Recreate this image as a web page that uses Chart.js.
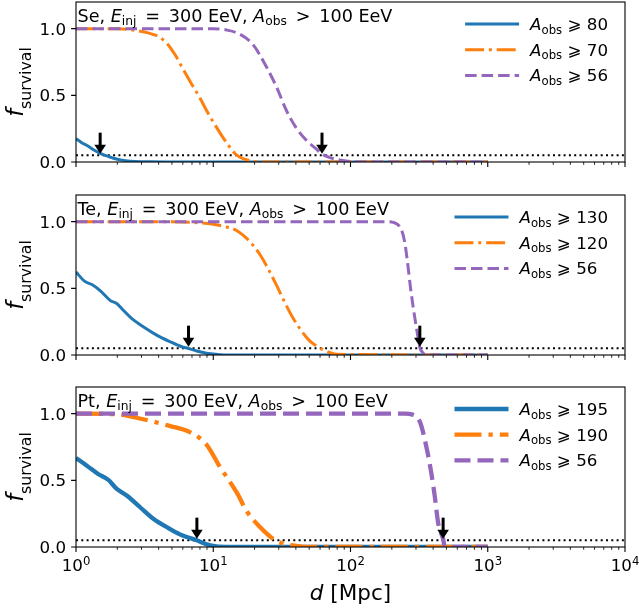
<!DOCTYPE html>
<html>
<head>
<meta charset="utf-8">
<script src="https://cdn.jsdelivr.net/npm/chart.js@4.4.1/dist/chart.umd.min.js"></script>
<style>
html,body{margin:0;padding:0;background:#fff;}
body{width:639px;height:609px;position:relative;overflow:hidden;}
canvas{position:absolute;left:0;}
</style>
</head>
<body>
<canvas id="c1" width="639" height="190" style="top:0px;width:639px;height:190px"></canvas>
<canvas id="c2" width="639" height="192" style="top:190px;width:639px;height:192px"></canvas>
<canvas id="c3" width="639" height="227" style="top:382px;width:639px;height:227px"></canvas>
<script>
// ---------------- data ----------------
const xTickValues = [1, 10, 100, 1000, 10000];
const xTickExponents = ['0', '1', '2', '3', '4'];
const xMinorTickValues = [2, 3, 4, 5, 6, 7, 8, 9, 20, 30, 40, 50, 60, 70, 80, 90,
  200, 300, 400, 500, 600, 700, 800, 900, 2000, 3000, 4000, 5000, 6000, 7000, 8000, 9000];
const yTickValues = [0, 0.5, 1.0];
const yTickLabels = ['0.0', '0.5', '1.0'];
const survivalThreshold = 0.05;

// Se panel
const seHeavyDist = [1, 1.1, 1.22, 1.35, 1.5, 1.65, 1.8, 2.0, 2.3, 2.7, 3.5, 5, 1000];
const seHeavyFrac = [0.175, 0.145, 0.12, 0.09, 0.065, 0.048, 0.035, 0.02, 0.01, 0.004, 0.001, 0, 0];
const seMidDist = [1, 2, 2.6, 3.3, 4, 4.6, 5.3, 6, 7, 8, 9, 10, 11.5, 13, 14.5, 16.5, 19, 22, 1000];
const seMidFrac = [1, 1, 0.99, 0.97, 0.94, 0.89, 0.8, 0.7, 0.58, 0.48, 0.38, 0.3, 0.2, 0.12, 0.06, 0.025, 0.008, 0, 0];
const seLightDist = [1, 10, 12.5, 15.5, 19.5, 24.5, 29, 34, 40, 48, 56, 62, 70, 83, 100, 120, 1000];
const seLightFrac = [1, 1, 0.99, 0.96, 0.88, 0.71, 0.56, 0.39, 0.26, 0.16, 0.1, 0.06, 0.035, 0.015, 0.004, 0, 0];
const seArrowDist = [1.5, 62];
const seLegendMasses = ['80', '70', '56'];

// Te panel
const teHeavyDist = [1, 1.16, 1.34, 1.52, 1.77, 1.98, 2.21, 2.54, 3.09, 3.87, 4.84, 5.89, 6.58, 7.57, 8.95, 10.6, 13, 1000];
const teHeavyFrac = [0.622, 0.552, 0.522, 0.478, 0.41, 0.386, 0.336, 0.274, 0.211, 0.149, 0.1, 0.062, 0.05, 0.03, 0.013, 0.005, 0, 0];
const teMidDist = [1, 5, 7, 10, 12.5, 15, 18.5, 22, 25, 29, 33, 38, 44, 50, 57, 63, 70, 80, 1000];
const teMidFrac = [1, 1, 0.995, 0.98, 0.96, 0.93, 0.85, 0.75, 0.65, 0.52, 0.4, 0.28, 0.18, 0.11, 0.065, 0.04, 0.02, 0.005, 0];
const teLightDist = [1, 150, 185, 205, 220, 235, 248, 260, 274, 290, 306, 320, 335, 355, 1000];
const teLightFrac = [1, 1, 1, 0.995, 0.98, 0.94, 0.85, 0.7, 0.5, 0.32, 0.17, 0.055, 0.02, 0, 0];
const teArrowDist = [6.6, 320];
const teLegendMasses = ['130', '120', '56'];

// Pt panel
const ptHeavyDist = [1, 1.2, 1.45, 1.72, 1.98, 2.34, 2.92, 3.66, 4.57, 5.72, 7.57, 9.5, 12.5, 1000];
const ptHeavyFrac = [0.667, 0.61, 0.548, 0.503, 0.436, 0.386, 0.3, 0.212, 0.15, 0.095, 0.05, 0.013, 0, 0];
const ptMidDist = [1, 2, 2.6, 3.5, 4.8, 6.8, 8.9, 11.2, 13, 15, 17.5, 21.9, 27.4, 32.3, 42.8, 50, 1000];
const ptMidFrac = [1, 0.995, 0.975, 0.945, 0.908, 0.86, 0.77, 0.6, 0.5, 0.4, 0.27, 0.15, 0.06, 0.025, 0.005, 0, 0];
const ptLightDist = [1, 250, 279, 320, 358, 389, 412, 436, 473, 487, 1000];
const ptLightFrac = [1, 1, 0.995, 0.94, 0.746, 0.548, 0.373, 0.175, 0.06, 0, 0];
const ptArrowDist = [7.6, 473];
const ptLegendMasses = ['195', '190', '56'];

// ---------------- style ----------------
const BLUE = '#1f77b4', ORANGE = '#ff7f0e', PURPLE = '#9467bd';
const FAMILY = '"DejaVu Sans", sans-serif';
const FS = 16.7;
const TITLE_FS = 17.6;

function pts(d, f) { return d.map((v, i) => ({x: v, y: f[i]})); }
function font(size, italic) { return (italic ? 'italic ' : '') + size + 'px ' + FAMILY; }

// parts: [text, kind]; kind: 'n' normal, 'i' italic, 'sub', 'sup'
function richMeasure(ctx, parts, size) {
  let w = 0;
  const items = parts.map(p => {
    const small = p[1] === 'sub' || p[1] === 'sup';
    const s = small ? size * 0.7 : size;
    const it = p[1] === 'i';
    ctx.font = font(s, it);
    const pw = ctx.measureText(p[0]).width;
    w += pw;
    return {t: p[0], s, it, pw, dy: p[1] === 'sub' ? size * 0.22 : (p[1] === 'sup' ? -size * 0.38 : 0)};
  });
  return {w, items};
}
function drawRich(ctx, parts, x, y, size, align, subDy) {
  const m = richMeasure(ctx, parts, size);
  let cx = align === 'center' ? x - m.w / 2 : (align === 'right' ? x - m.w : x);
  ctx.textBaseline = 'alphabetic';
  ctx.textAlign = 'left';
  for (const it of m.items) {
    ctx.font = font(it.s, it.it);
    let dy = it.dy;
    if (subDy !== undefined && dy > 0) dy = subDy;
    ctx.fillText(it.t, cx, y + dy);
    cx += it.pw;
  }
  return m.w;
}

function panelPlugin(cfg) {
  return {
    id: 'panelDecor',
    afterDraw(chart) {
      const {ctx, chartArea: a, scales: {x, y}} = chart;
      ctx.save();
      ctx.fillStyle = '#000';
      ctx.strokeStyle = '#000';
      ctx.setLineDash([]);
      // spines
      ctx.lineWidth = 1.1;
      ctx.strokeRect(a.left, a.top, a.right - a.left, a.bottom - a.top);
      // x ticks
      ctx.beginPath();
      xTickValues.forEach(v => { const px = x.getPixelForValue(v); ctx.moveTo(px, a.bottom); ctx.lineTo(px, a.bottom + 4.9); });
      ctx.stroke();
      ctx.lineWidth = 0.85;
      ctx.beginPath();
      xMinorTickValues.forEach(v => { const px = x.getPixelForValue(v); ctx.moveTo(px, a.bottom); ctx.lineTo(px, a.bottom + 2.8); });
      ctx.stroke();
      // y ticks + labels
      ctx.lineWidth = 1.1;
      ctx.beginPath();
      yTickValues.forEach(v => { const py = y.getPixelForValue(v); ctx.moveTo(a.left - 4.9, py); ctx.lineTo(a.left, py); });
      ctx.stroke();
      ctx.font = font(FS, false);
      ctx.textAlign = 'right';
      ctx.textBaseline = 'alphabetic';
      yTickValues.forEach((v, i) => { const py = y.getPixelForValue(v); ctx.fillText(yTickLabels[i], a.left - 10, py + 6); });
      // x tick labels and axis label
      if (cfg.showX) {
        xTickValues.forEach((v, i) => {
          const px = x.getPixelForValue(v);
          drawRich(ctx, [['10', 'n'], [xTickExponents[i], 'sup']], px, a.bottom + 24, FS, 'center');
        });
        drawRich(ctx, [['d', 'i'], [' [Mpc]', 'n']], (a.left + a.right) / 2, a.bottom + 53, 21.5, 'center');
      }
      // arrows
      cfg.arrows.forEach(d => {
        const px = x.getPixelForValue(d);
        const yTail = y.getPixelForValue(0.22);
        const yTip = y.getPixelForValue(0.062);
        ctx.lineWidth = 3;
        ctx.beginPath(); ctx.moveTo(px, yTail); ctx.lineTo(px, yTip - 6); ctx.stroke();
        ctx.beginPath(); ctx.moveTo(px - 5.8, yTip - 9); ctx.lineTo(px + 5.8, yTip - 9); ctx.lineTo(px, yTip); ctx.closePath(); ctx.fill();
      });
      // title text
      drawRich(ctx, [[cfg.element + ', ', 'n'], ['E', 'i'], ['inj', 'sub'], ['\u2002=\u2002300 EeV, ', 'n'], ['A', 'i'], ['obs', 'sub'], ['\u2002>\u2002100 EeV', 'n']],
        a.left + 1.5, a.top + 19.5, TITLE_FS, 'left');
      // legend
      const rows = cfg.legend.map(m => [['A', 'i'], ['obs', 'sub'], [' \u2A7E ' + m, 'n']]);
      const maxW = Math.max(...rows.map(r => richMeasure(ctx, r, FS).w));
      const textX = a.right - 17 - maxW;
      const styles = [
        {c: BLUE, dash: []},
        {c: ORANGE, dash: cfg.dashDot},
        {c: PURPLE, dash: cfg.dashed}
      ];
      rows.forEach((r, i) => {
        const ly = a.top + 22 + 25.7 * i;
        ctx.strokeStyle = styles[i].c;
        ctx.lineWidth = cfg.lw;
        ctx.lineCap = 'butt';
        ctx.setLineDash(styles[i].dash);
        ctx.beginPath(); ctx.moveTo(textX - 65, ly); ctx.lineTo(textX - 11, ly); ctx.stroke();
        ctx.setLineDash([]);
        ctx.fillStyle = '#000';
        drawRich(ctx, r, textX, ly + 6, FS, 'left');
      });
      // y label
      ctx.save();
      ctx.translate(23, (a.top + a.bottom) / 2);
      ctx.rotate(-Math.PI / 2);
      drawRich(ctx, [['f', 'i'], ['survival', 'sub']], 0, 0, 22.5, 'center', 7.5);
      ctx.restore();
      ctx.restore();
    }
  };
}

function makePanel(cfg) {
  const el = document.getElementById(cfg.canvas);
  const H = el.height;
  const common = {pointRadius: 0, fill: false, borderCapStyle: 'butt', borderJoinStyle: 'round',
    cubicInterpolationMode: 'monotone', clip: 0, borderWidth: cfg.lw};
  new Chart(el, {
    type: 'line',
    data: {
      datasets: [
        Object.assign({data: pts(cfg.lightD, cfg.lightF), borderColor: PURPLE, borderDash: cfg.dashed, order: 1}, common),
        Object.assign({data: pts(cfg.midD, cfg.midF), borderColor: ORANGE, borderDash: cfg.dashDot, order: 2}, common),
        Object.assign({data: pts(cfg.heavyD, cfg.heavyF), borderColor: BLUE, borderDash: [], order: 3}, common),
        {data: [{x: xTickValues[0], y: survivalThreshold}, {x: xTickValues[xTickValues.length - 1], y: survivalThreshold}],
          borderColor: '#000', borderWidth: 2, borderDash: [2, 3.3], pointRadius: 0, order: 4, clip: 0}
      ]
    },
    options: {
      responsive: false, animation: false, events: [],
      layout: {padding: {top: cfg.padTop, right: 14, left: 0, bottom: 0}},
      plugins: {legend: {display: false}, tooltip: {enabled: false}},
      scales: {
        x: {type: 'logarithmic', min: 1, max: 10000, bounds: 'data',
          ticks: {display: false}, grid: {display: false}, border: {display: false},
          afterFit: s => { s.height = H - cfg.padTop - 160; }},
        y: {type: 'linear', min: 0, max: 1.2, bounds: 'data',
          ticks: {display: false}, grid: {display: false}, border: {display: false},
          afterFit: s => { s.width = 76; }}
      }
    },
    plugins: [panelPlugin(cfg)]
  });
}

const thinLw = 3.0, thickLw = 4.3;
makePanel({canvas: 'c1', padTop: 2, element: 'Se', lw: thinLw, dashed: [11.5, 5], dashDot: [19, 4.8, 3, 4.8],
  heavyD: seHeavyDist, heavyF: seHeavyFrac, midD: seMidDist, midF: seMidFrac, lightD: seLightDist, lightF: seLightFrac,
  arrows: seArrowDist, legend: seLegendMasses, showX: false});
makePanel({canvas: 'c2', padTop: 5, element: 'Te', lw: thinLw, dashed: [11.5, 5], dashDot: [19, 4.8, 3, 4.8],
  heavyD: teHeavyDist, heavyF: teHeavyFrac, midD: teMidDist, midF: teMidFrac, lightD: teLightDist, lightF: teLightFrac,
  arrows: teArrowDist, legend: teLegendMasses, showX: false});
makePanel({canvas: 'c3', padTop: 5, element: 'Pt', lw: thickLw, dashed: [16, 7], dashDot: [27, 7, 4.3, 7],
  heavyD: ptHeavyDist, heavyF: ptHeavyFrac, midD: ptMidDist, midF: ptMidFrac, lightD: ptLightDist, lightF: ptLightFrac,
  arrows: ptArrowDist, legend: ptLegendMasses, showX: true});
</script>
</body>
</html>
